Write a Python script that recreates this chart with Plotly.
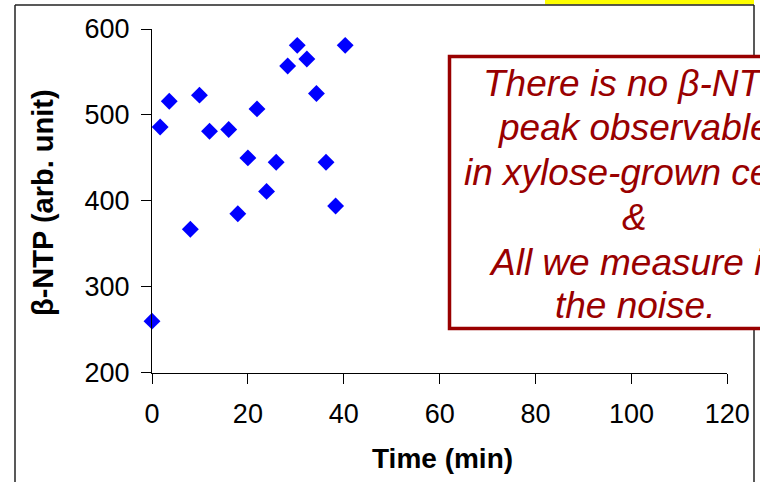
import plotly.graph_objects as go

# beta-NTP signal over time (xylose-grown cells)
time_min = [0, 1.7, 3.6, 8.0, 9.9, 12.0, 16.0, 17.9, 20.0, 21.9,
            23.9, 25.9, 28.3, 30.3, 32.3, 34.3, 36.3, 38.3, 40.3]
beta_ntp = [260, 486, 516, 367, 523, 481, 483, 385, 450, 507,
            411, 445, 557, 581, 565, 525, 445, 394, 581]

x_ticks = [0, 20, 40, 60, 80, 100, 120]
y_ticks = [200, 300, 400, 500, 600]

note_lines = ["There is no β-NTP", "peak observable", "in xylose-grown cells",
              "&", "All we measure is", "the noise."]

W, H = 760, 482
FONT = "Arial, Liberation Sans, sans-serif"
RED = "#990000"


def px(x):
    return x / W


def py(y):
    return (H - y) / H


fig = go.Figure()
fig.add_trace(go.Scatter(
    x=time_min, y=beta_ntp, mode="markers", cliponaxis=False,
    marker=dict(symbol="diamond", size=13, color="#0000FF", line=dict(width=0)),
    hoverinfo="x+y", showlegend=False,
))

fig.update_layout(
    width=W, height=H,
    margin=dict(l=0, r=0, t=0, b=0, autoexpand=False),
    paper_bgcolor="white", plot_bgcolor="white",
    font=dict(family=FONT, color="black"),
    xaxis=dict(
        domain=[px(152), px(727.3)], range=[0, 120], automargin=False,
        tickvals=x_ticks, ticks="outside", ticklen=10, tickwidth=1, tickcolor="black",
        showline=True, linecolor="black", linewidth=1, showgrid=False, zeroline=False,
        tickfont=dict(size=27, family=FONT), ticklabelstandoff=7,
    ),
    yaxis=dict(
        domain=[py(372.7), py(29)], range=[200, 600], automargin=False,
        tickvals=y_ticks, ticks="outside", ticklen=10, tickwidth=1, tickcolor="black",
        showline=True, linecolor="black", linewidth=1, showgrid=False, zeroline=False,
        tickfont=dict(size=27, family=FONT), ticklabelstandoff=6,
    ),
)

shapes = [
    # yellow tab above the frame
    dict(type="rect", xref="paper", yref="paper", x0=px(545), x1=px(754), y0=py(4.5), y1=py(-2),
         fillcolor="#FFFF00", line=dict(width=0), layer="above"),
    # outer frame
    dict(type="line", xref="paper", yref="paper", x0=px(15), x1=px(15), y0=py(5), y1=py(490),
         line=dict(color="#222222", width=1.5)),
    dict(type="line", xref="paper", yref="paper", x0=px(15), x1=px(754), y0=py(5), y1=py(5),
         line=dict(color="#222222", width=1.5)),
    dict(type="line", xref="paper", yref="paper", x0=px(754), x1=px(754), y0=py(5), y1=py(490),
         line=dict(color="#222222", width=1.5)),
    # callout box
    dict(type="rect", xref="paper", yref="paper", x0=px(449.5), x1=px(820), y0=py(328.5), y1=py(56.5),
         fillcolor="white", line=dict(color=RED, width=3.5), layer="above"),
]
fig.update_layout(shapes=shapes)

# callout text, one annotation per line
line_y = [83, 128, 173, 218, 262, 305]
for s, yy in zip(note_lines, line_y):
    fig.add_annotation(
        xref="paper", yref="paper", x=px(634.5), y=py(yy), xanchor="center", yanchor="middle",
        text=f"<i>{s}</i>", showarrow=False,
        font=dict(family=FONT, size=37, color=RED),
    )
fig.add_annotation(
    xref="paper", yref="paper", x=px(442), y=py(458), xanchor="center", yanchor="middle",
    text="<b>Time (min)</b>", showarrow=False, font=dict(family=FONT, size=28, color="black"),
)
fig.add_annotation(
    xref="paper", yref="paper", x=px(43), y=py(203), xanchor="center", yanchor="middle",
    text="<b>β-NTP (arb. unit)</b>", textangle=-90, showarrow=False,
    font=dict(family=FONT, size=29, color="black"),
)

fig.write_html("out.html")
